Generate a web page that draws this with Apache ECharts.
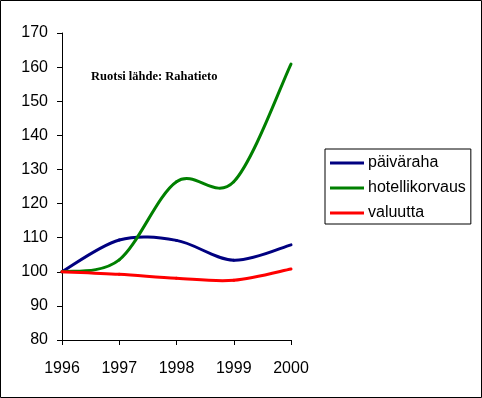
<!DOCTYPE html>
<html>
<head>
<meta charset="utf-8">
<script src="https://cdn.jsdelivr.net/npm/echarts@6/dist/echarts.min.js"></script>
<style>
html,body{margin:0;padding:0;background:#fff;}
#c{width:482px;height:398px;}
</style>
</head>
<body>
<div id="c"></div>
<script>
var years = ['1996', '1997', '1998', '1999', '2000'];
var paivaraha = [100, 109.3, 109.2, 103.4, 107.9];
var hotellikorvaus = [100, 103.5, 126.4, 126.4, 160.9];
var valuutta = [100, 99.25, 98.1, 97.5, 100.8];
var seriesNames = ['päiväraha', 'hotellikorvaus', 'valuutta'];
var yTicks = {min: 80, max: 170, interval: 10};
var titleText = 'Ruotsi lähde: Rahatieto';

var chart = echarts.init(document.getElementById('c'));
var font = 'Liberation Sans, Arial, sans-serif';

// Smoothed line (Catmull-Rom style Bezier segments, like a spreadsheet's smoothed line)
function smoothLine(name, values, color) {
  return {
    name: name, type: 'custom',
    data: values.map(function (v, i) { return [i, v]; }),
    encode: {x: 0, y: 1},
    itemStyle: {color: color},
    animation: false,
    renderItem: function (params, api) {
      var i = params.dataIndex;
      var n = values.length;
      if (i >= n - 1) return {type: 'group', children: []};
      var pt = function (k) {
        k = Math.max(0, Math.min(n - 1, k));
        return api.coord([k, values[k]]);
      };
      var p0 = pt(i - 1), p1 = pt(i), p2 = pt(i + 1), p3 = pt(i + 2);
      return {
        type: 'bezierCurve',
        shape: {
          x1: p1[0], y1: p1[1], x2: p2[0], y2: p2[1],
          cpx1: p1[0] + (p2[0] - p0[0]) / 6, cpy1: p1[1] + (p2[1] - p0[1]) / 6,
          cpx2: p2[0] - (p3[0] - p1[0]) / 6, cpy2: p2[1] - (p3[1] - p1[1]) / 6
        },
        style: {stroke: color, lineWidth: 3, fill: null, lineCap: 'round'}
      };
    }
  };
}

chart.setOption({
  backgroundColor: '#fff',
  animation: false,
  title: {
    text: titleText, left: 91, top: 70, padding: 0,
    textStyle: {fontFamily: 'Liberation Serif, Times New Roman, serif', fontWeight: 'bold', fontSize: 12.5, color: '#000'}
  },
  legend: {
    orient: 'vertical', left: 325, top: 149,
    padding: [6, 5, 3, 5],
    borderColor: '#000', borderWidth: 1,
    itemWidth: 34, itemHeight: 3, itemGap: 9, icon: 'rect',
    itemStyle: {borderWidth: 0},
    textStyle: {fontFamily: font, fontSize: 16, color: '#000', lineHeight: 16, padding: [0, 0, 0, -1]},
    data: seriesNames
  },
  grid: {left: 62, right: 191, top: 33, bottom: 58},
  xAxis: {
    type: 'category', data: years, boundaryGap: false,
    axisLine: {lineStyle: {color: '#000', width: 1}},
    axisTick: {length: 5, lineStyle: {color: '#000'}},
    axisLabel: {fontFamily: font, fontSize: 16, color: '#000', margin: 21}
  },
  yAxis: {
    type: 'value', min: yTicks.min, max: yTicks.max, interval: yTicks.interval,
    axisLine: {show: true, lineStyle: {color: '#000', width: 1}},
    axisTick: {show: true, length: 5, lineStyle: {color: '#000'}},
    splitLine: {show: false},
    axisLabel: {fontFamily: font, fontSize: 16, color: '#000', margin: 14}
  },
  graphic: [{
    type: 'rect', shape: {x: 0.5, y: 0.5, width: 481, height: 397},
    style: {fill: 'none', stroke: '#000', lineWidth: 1}, silent: true, z: 100
  }],
  series: [
    smoothLine(seriesNames[0], paivaraha, '#000080'),
    smoothLine(seriesNames[1], hotellikorvaus, '#008000'),
    smoothLine(seriesNames[2], valuutta, '#ff0000')
  ]
});
</script>
</body>
</html>
